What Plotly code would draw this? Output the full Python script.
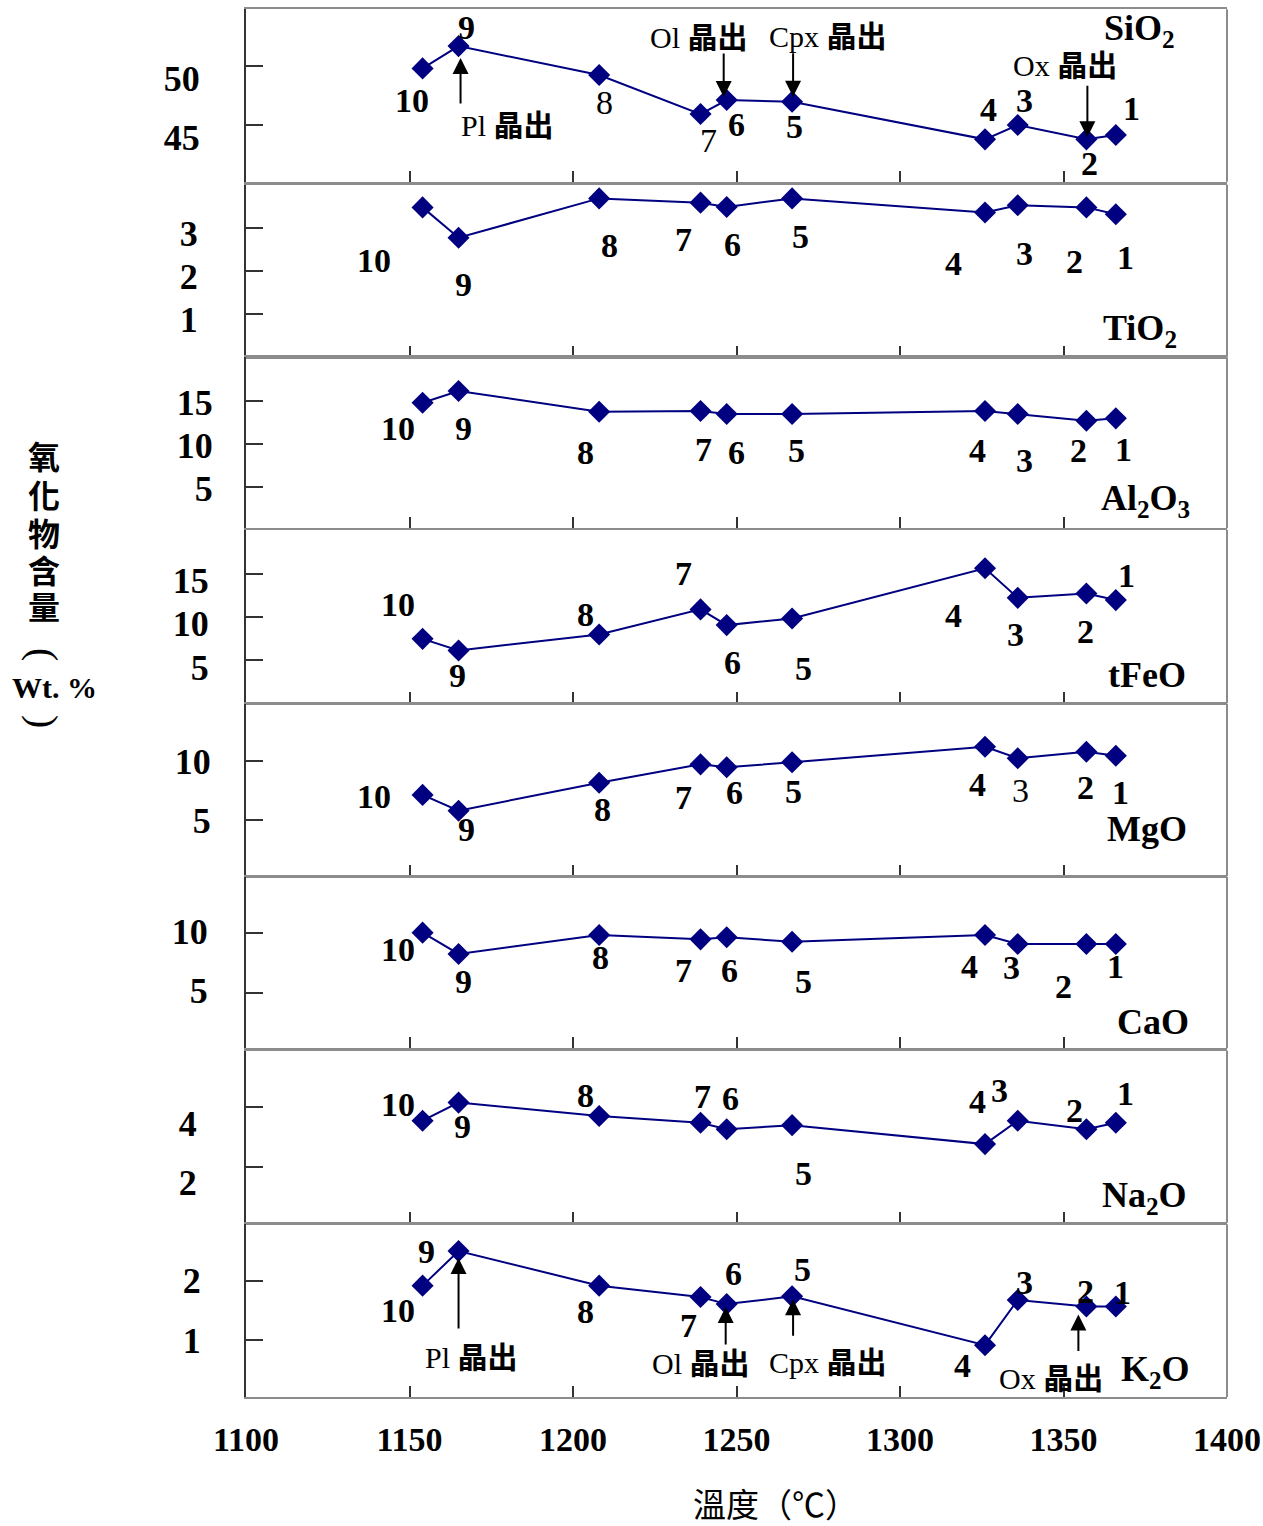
import plotly.graph_objects as go

# Sample numbers (10 -> 1) and their run temperatures (°C)
sample_ids = ["10", "9", "8", "7", "6", "5", "4", "3", "2", "1"]
temps = [1154, 1165, 1208, 1239, 1247, 1267, 1326, 1336, 1357, 1366]

# Oxide contents of the glasses (wt.%)
sio2 = [49.80, 51.68, 49.24, 45.95, 47.13, 46.99, 43.82, 45.03, 43.82, 44.18]
tio2 = [3.49, 2.78, 3.70, 3.60, 3.50, 3.70, 3.37, 3.54, 3.49, 3.33]
al2o3 = [14.77, 16.13, 13.72, 13.80, 13.45, 13.45, 13.80, 13.45, 12.67, 12.95]
tfeo = [7.45, 6.10, 7.96, 10.86, 9.04, 9.81, 15.63, 12.20, 12.71, 11.94]
mgo = [7.14, 5.81, 8.17, 9.72, 9.47, 9.89, 11.20, 10.23, 10.78, 10.45]
cao = [10.05, 8.26, 9.86, 9.49, 9.66, 9.29, 9.86, 9.10, 9.10, 9.10]
na2o = [3.55, 4.16, 3.71, 3.48, 3.26, 3.40, 2.76, 3.55, 3.26, 3.48]
k2o = [1.92, 2.50, 1.92, 1.73, 1.61, 1.74, 0.92, 1.68, 1.57, 1.57]

oxide_names = ["SiO<sub>2</sub>", "TiO<sub>2</sub>", "Al<sub>2</sub>O<sub>3</sub>", "tFeO",
               "MgO", "CaO", "Na<sub>2</sub>O", "K<sub>2</sub>O"]
oxide_values = [sio2, tio2, al2o3, tfeo, mgo, cao, na2o, k2o]

y_ranges = [[40.25, 54.78], [0, 4.02], [0.16, 20.05], [-0.02, 20.06],
            [0.30, 14.81], [0.32, 14.76], [0.11, 5.91], [0.05, 2.95]]
y_ticks = [[45, 50], [1, 2, 3], [5, 10, 15], [5, 10, 15],
           [5, 10], [5, 10], [2, 4], [1, 2]]
x_ticks = [1100, 1150, 1200, 1250, 1300, 1350, 1400]

# ---- layout geometry (pixels) ----
W, H = 1263, 1526
ML, MR, MT, MB = 246, 36, 9, 129
PW = W - ML - MR
PH = H - MT - MB
plot_bottom = H - MB
# top / bottom edge of each panel
panel_px = [(9.3, 181.7), (184.7, 356.7), (357.3, 528.3), (530, 703.3),
            (704, 876), (876.7, 1048.3), (1050.7, 1222.7), (1224.3, 1397)]
# tick-label tweaks per panel: (shift along axis, standoff from axis)
ytick_shift = [12, 5, 2, 7, 0, -2, 16, 0]
ytick_standoff = [37, 39, 24, 28, 26, 29, 40, 36]
# oxide name placement: (right edge px, centre y px)
name_pos = [(1177, 31), (1179, 330), (1192, 500), (1188, 675),
            (1189, 829), (1191, 1022), (1189, 1197), (1192, 1371)]

# point-number label offsets from each marker (dx right, dy down), samples 10 -> 1
label_offsets = [
    [(-11, 32), (8, -19), (5, 27), (8, 26), (10, 24), (2, 25), (3, -30), (7, -24), (3, 24), (16, -27)],
    [(-49, 53), (5, 47), (10, 47), (-17, 37), (6, 38), (8, 38), (-32, 51), (7, 48), (-12, 54), (10, 43)],
    [(-25, 26), (5, 37), (-14, 41), (3, 38), (10, 38), (4, 36), (-8, 39), (7, 46), (-8, 30), (8, 31)],
    [(-25, -34), (-1, 25), (-14, -20), (-17, -36), (6, 37), (11, 50), (-32, 47), (-2, 37), (-1, 38), (11, -25)],
    [(-49, 2), (8, 19), (3, 27), (-17, 33), (8, 25), (1, 29), (-8, 38), (3, 32), (-1, 36), (5, 37)],
    [(-25, 17), (5, 28), (1, 23), (-17, 31), (3, 33), (11, 40), (-16, 32), (-6, 24), (-23, 43), (0, 23)],
    [(-25, -16), (4, 24), (-14, -20), (2, -26), (4, -31), (11, 48), (-8, -43), (-18, -30), (-12, -19), (10, -29)],
    [(-25, 25), (-32, 0), (-14, 26), (-12, 29), (7, -31), (10, -27), (-23, 20), (7, -17), (-1, -15), (7, -14)],
]
# labels set in regular (non-bold) weight: (panel, sample)
thin_labels = {(0, "8"), (0, "7"), (4, "3")}

# crystallisation arrows: (panel, sample index, tail dy, standoff, xshift, text, text dx, text dy)
phase_notes = [
    (0, 1, 59, 12, 2, "Pl", 49, 79),
    (0, 4, -48, 3, -3, "Ol", -28, -63),
    (0, 5, -50, 5, 1, "Cpx", 36, -65),
    (0, 8, -55, 2, 1, "Ox", -21, -74),
    (7, 1, 79, 7, 0, "Pl", 13, 106),
    (7, 4, 42, 3, -1, "Ol", -26, 59),
    (7, 5, 41, 3, 1, "Cpx", 36, 66),
    (7, 8, 46, 8, -8, "Ox", -35, 72),
]

SERIF = "Liberation Serif, Times New Roman, serif"
CJK = "Noto Sans CJK TC, Noto Sans CJK SC, sans-serif"
NAVY = "#000080"
FRAME = "#8c8c8c"
DARK = "#333333"

fig = go.Figure()
layout = dict(
    width=W, height=H,
    margin=dict(l=ML, r=MR, t=MT, b=MB, autoexpand=False),
    paper_bgcolor="white", plot_bgcolor="white",
    showlegend=False,
)

shapes = []
annotations = []

for i, (name, vals) in enumerate(zip(oxide_names, oxide_values)):
    n = i + 1
    xa = "x" if n == 1 else f"x{n}"
    ya = "y" if n == 1 else f"y{n}"
    xkey = "xaxis" if n == 1 else f"xaxis{n}"
    ykey = "yaxis" if n == 1 else f"yaxis{n}"
    top, bot = panel_px[i]
    dom = [(plot_bottom - bot) / PH, (plot_bottom - top) / PH]

    fig.add_trace(go.Scatter(
        x=temps, y=vals, xaxis=xa, yaxis=ya, mode="lines+markers",
        line=dict(color=NAVY, width=2),
        marker=dict(symbol="diamond", size=17, color=NAVY),
        hoverinfo="skip",
    ))

    last = n == len(oxide_names)
    layout[xkey] = dict(
        domain=[0, 1], anchor=ya, range=[1100, 1400], automargin=False,
        tickvals=x_ticks, ticks="inside", ticklen=11, tickwidth=1.5, tickcolor=DARK,
        showline=True, linecolor=FRAME, linewidth=2, mirror=True,
        showgrid=False, zeroline=False,
        showticklabels=last,
        tickfont=dict(family=SERIF, size=34, color="black", weight="bold"),
        ticklabelstandoff=11,
    )
    if n > 1:
        layout[xkey]["matches"] = "x"
    layout[ykey] = dict(
        domain=dom, anchor=xa, range=y_ranges[i], automargin=False,
        tickvals=y_ticks[i], ticks="inside", ticklen=17, tickwidth=1.5, tickcolor=DARK,
        showline=True, linecolor=DARK, linewidth=2, mirror=False,
        showgrid=False, zeroline=False,
        tickfont=dict(family=SERIF, size=36, color="black", weight="bold"),
        ticklabelshift=ytick_shift[i], ticklabelstandoff=ytick_standoff[i],
    )

    # right edge of the panel frame
    shapes.append(dict(type="line", xref=f"{xa} domain", yref=f"{ya} domain",
                       x0=1, x1=1, y0=0, y1=1, line=dict(color=FRAME, width=2)))

    # oxide name inside the panel
    rx, cy = name_pos[i]
    annotations.append(dict(
        xref=f"{xa} domain", yref=f"{ya} domain",
        x=(rx - ML) / PW, y=(bot - cy) / (bot - top),
        xanchor="right", yanchor="middle", showarrow=False,
        text=f"<b>{name}</b>", font=dict(family=SERIF, size=36, color="black"),
    ))

    # sample numbers beside the markers
    for j, (lab, t, v) in enumerate(zip(sample_ids, temps, vals)):
        dx, dy = label_offsets[i][j]
        txt = lab if (i, lab) in thin_labels else f"<b>{lab}</b>"
        annotations.append(dict(
            xref=xa, yref=ya, x=t, y=v, xshift=dx, yshift=-dy,
            xanchor="center", yanchor="middle",
            showarrow=False, text=txt,
            font=dict(family=SERIF, size=34, color="black"),
        ))

# mineral-in arrows and labels
for panel, idx, tail, gap, xs, mineral, tdx, tdy in phase_notes:
    n = panel + 1
    xa = "x" if n == 1 else f"x{n}"
    ya = "y" if n == 1 else f"y{n}"
    vals = oxide_values[panel]
    annotations.append(dict(
        xref=xa, yref=ya, x=temps[idx], y=vals[idx], xshift=xs,
        ax=0, ay=tail, axref="pixel", ayref="pixel",
        showarrow=True, arrowhead=2, arrowsize=1.6, arrowwidth=2,
        arrowcolor="black", standoff=gap, text="",
    ))
    annotations.append(dict(
        xref=xa, yref=ya, x=temps[idx], y=vals[idx], xshift=tdx, yshift=-tdy,
        xanchor="center", yanchor="middle",
        showarrow=False, text=f"{mineral} <b>晶出</b>",
        font=dict(family=f"{SERIF}, {CJK}", size=30, color="black"),
    ))

# x-axis title
annotations.append(dict(
    xref="paper", yref="paper", x=(775 - ML) / PW, y=(plot_bottom - 1503) / PH,
    xanchor="center", yanchor="middle",
    showarrow=False, text="溫度（℃）",
    font=dict(family=CJK, size=33, color="black"),
))
# y-axis title, one character per line: oxide content (Wt. %)
for ch, py in zip("氧化物含量", [455, 494, 532, 569, 605]):
    annotations.append(dict(
        xref="paper", yref="paper", x=(44 - ML) / PW, y=(plot_bottom - py) / PH,
        xanchor="center", yanchor="middle",
        showarrow=False, text=f"<b>{ch}</b>",
        font=dict(family=CJK, size=32, color="black"),
    ))
for txt, px, py, angle in [("(", 44, 654, 90), (")", 44, 721, 90)]:
    annotations.append(dict(
        xref="paper", yref="paper", x=(px - ML) / PW, y=(plot_bottom - py) / PH,
        xanchor="center", yanchor="middle", textangle=angle,
        showarrow=False, text=txt, font=dict(family=SERIF, size=40, color="black"),
    ))
annotations.append(dict(
    xref="paper", yref="paper", x=(54 - ML) / PW, y=(plot_bottom - 687) / PH,
    xanchor="center", yanchor="middle",
    showarrow=False, text="<b>Wt. %</b>", font=dict(family=SERIF, size=30, color="black"),
))

layout["shapes"] = shapes
layout["annotations"] = annotations
fig.update_layout(**layout)
fig.write_html("out.html")
